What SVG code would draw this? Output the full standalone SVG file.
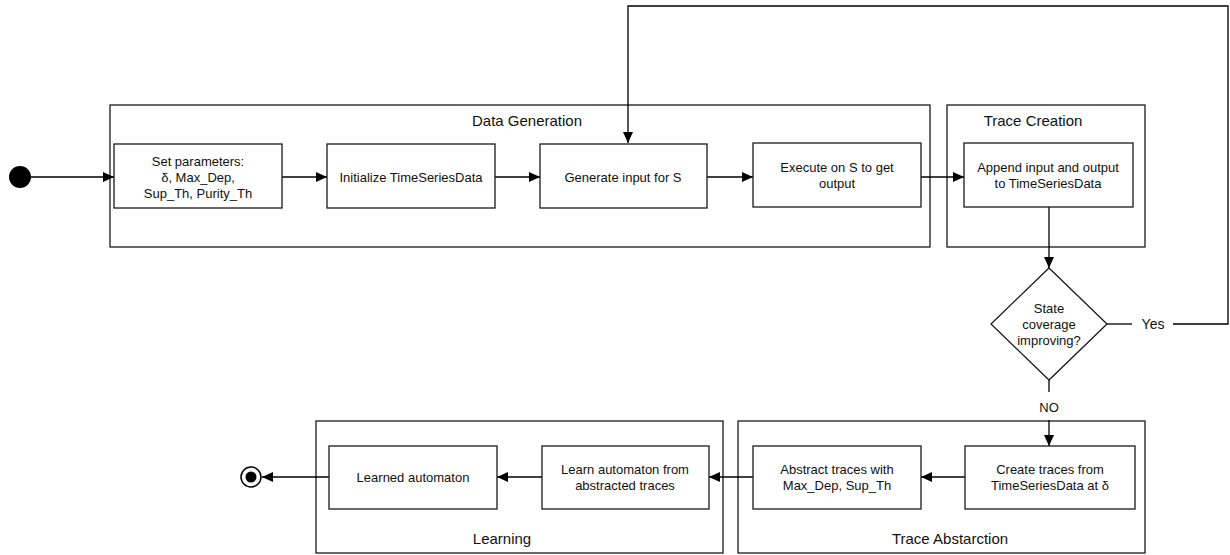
<svg xmlns="http://www.w3.org/2000/svg" width="1230" height="555" viewBox="0 0 1230 555">
  <style>
    .frame { fill: none; stroke: #1a1a1a; stroke-width: 1.3; }
    .box { fill: #fff; stroke: #1a1a1a; stroke-width: 1.3; }
    .edge { fill: none; stroke: #000; stroke-width: 1.3; }
    .txt { font-family: "Liberation Sans", Arial, sans-serif; font-size: 13px; fill: #111; text-anchor: middle; dominant-baseline: central; }
    .title { font-family: "Liberation Sans", Arial, sans-serif; font-size: 15px; fill: #111; text-anchor: middle; dominant-baseline: central; }
  </style>
  <defs>
    <marker id="arrow" markerUnits="userSpaceOnUse" markerWidth="12" markerHeight="10" refX="11" refY="5" orient="auto">
      <path d="M0,0 L11,5 L0,10 Z" fill="#000"/>
    </marker>
  </defs>

  <rect width="1230" height="555" fill="#fff"/>

  <!-- swimlane containers -->
  <g id="lane-data-generation">
    <rect class="frame" x="110" y="105" width="820" height="142"/>
    <text class="title" x="527" y="120">Data Generation</text>
  </g>
  <g id="lane-trace-creation">
    <rect class="frame" x="947" y="105" width="198" height="142"/>
    <text class="title" x="1033" y="120">Trace Creation</text>
  </g>
  <g id="lane-learning">
    <rect class="frame" x="316" y="421" width="407" height="132"/>
    <text class="title" x="502" y="538">Learning</text>
  </g>
  <g id="lane-trace-abstraction">
    <rect class="frame" x="738" y="421" width="407" height="132"/>
    <text class="title" x="950" y="538">Trace Abstarction</text>
  </g>

  <!-- connectors -->
  <g id="connectors">
    <line class="edge" x1="31" y1="177" x2="114" y2="177" marker-end="url(#arrow)"/>
    <line class="edge" x1="282" y1="177" x2="327" y2="177" marker-end="url(#arrow)"/>
    <line class="edge" x1="495" y1="177" x2="540" y2="177" marker-end="url(#arrow)"/>
    <line class="edge" x1="707" y1="177" x2="753" y2="177" marker-end="url(#arrow)"/>
    <line class="edge" x1="921" y1="177" x2="964" y2="177" marker-end="url(#arrow)"/>
    <line class="edge" x1="1049" y1="206" x2="1049" y2="268" marker-end="url(#arrow)"/>
    <!-- Yes branch loops back to input generation -->
    <line class="edge" x1="1107" y1="324" x2="1132" y2="324"/>
    <polyline class="edge" points="1173,324 1228,324 1228,6 628,6 628,143" marker-end="url(#arrow)"/>
    <text class="title" x="1153" y="324" style="font-size:14px">Yes</text>
    <!-- NO branch -->
    <line class="edge" x1="1049" y1="380" x2="1049" y2="392"/>
    <line class="edge" x1="1049" y1="420" x2="1049" y2="446" marker-end="url(#arrow)"/>
    <text class="txt" x="1049" y="407">NO</text>
    <line class="edge" x1="965" y1="477" x2="921" y2="477" marker-end="url(#arrow)"/>
    <line class="edge" x1="753" y1="477" x2="709" y2="477" marker-end="url(#arrow)"/>
    <line class="edge" x1="542" y1="477" x2="497" y2="477" marker-end="url(#arrow)"/>
    <line class="edge" x1="329" y1="477" x2="262" y2="477" marker-end="url(#arrow)"/>
  </g>

  <!-- start / end -->
  <g id="start">
    <circle cx="20" cy="177" r="11" fill="#000"/>
  </g>
  <g id="end">
    <circle cx="251" cy="477" r="10" fill="#fff" stroke="#000" stroke-width="1.5"/>
    <circle cx="251" cy="477" r="5.5" fill="#000"/>
  </g>

  <!-- activities -->
  <g id="set-parameters">
    <rect class="box" x="114" y="144" width="168" height="64"/>
    <text class="txt" x="198" y="161">Set parameters:</text>
    <text class="txt" x="198" y="177">δ, Max_Dep,</text>
    <text class="txt" x="198" y="193">Sup_Th, Purity_Th</text>
  </g>
  <g id="init-timeseries">
    <rect class="box" x="327" y="144" width="168" height="64"/>
    <text class="txt" x="411" y="177">Initialize TimeSeriesData</text>
  </g>
  <g id="generate-input">
    <rect class="box" x="540" y="144" width="167" height="64"/>
    <text class="txt" x="623" y="177">Generate input for S</text>
  </g>
  <g id="execute">
    <rect class="box" x="753" y="143" width="168" height="64"/>
    <text class="txt" x="837" y="167">Execute on S to get</text>
    <text class="txt" x="837" y="183">output</text>
  </g>
  <g id="append">
    <rect class="box" x="964" y="143" width="169" height="64"/>
    <text class="txt" x="1048" y="167">Append input and output</text>
    <text class="txt" x="1048" y="183">to TimeSeriesData</text>
  </g>
  <g id="decision">
    <polygon points="1049,268 1107,324 1049,380 991,324" fill="#fff" stroke="#1a1a1a" stroke-width="1.3"/>
    <text class="txt" x="1049" y="308">State</text>
    <text class="txt" x="1049" y="324">coverage</text>
    <text class="txt" x="1049" y="340">improving?</text>
  </g>
  <g id="create-traces">
    <rect class="box" x="965" y="446" width="170" height="63"/>
    <text class="txt" x="1050" y="469">Create traces from</text>
    <text class="txt" x="1050" y="485">TimeSeriesData at δ</text>
  </g>
  <g id="abstract-traces">
    <rect class="box" x="753" y="446" width="168" height="63"/>
    <text class="txt" x="837" y="469">Abstract traces with</text>
    <text class="txt" x="837" y="485">Max_Dep, Sup_Th</text>
  </g>
  <g id="learn-automaton">
    <rect class="box" x="542" y="446" width="167" height="63"/>
    <text class="txt" x="625" y="469">Learn automaton from</text>
    <text class="txt" x="625" y="485">abstracted traces</text>
  </g>
  <g id="learned-automaton">
    <rect class="box" x="329" y="446" width="168" height="63"/>
    <text class="txt" x="413" y="477">Learned automaton</text>
  </g>
</svg>
